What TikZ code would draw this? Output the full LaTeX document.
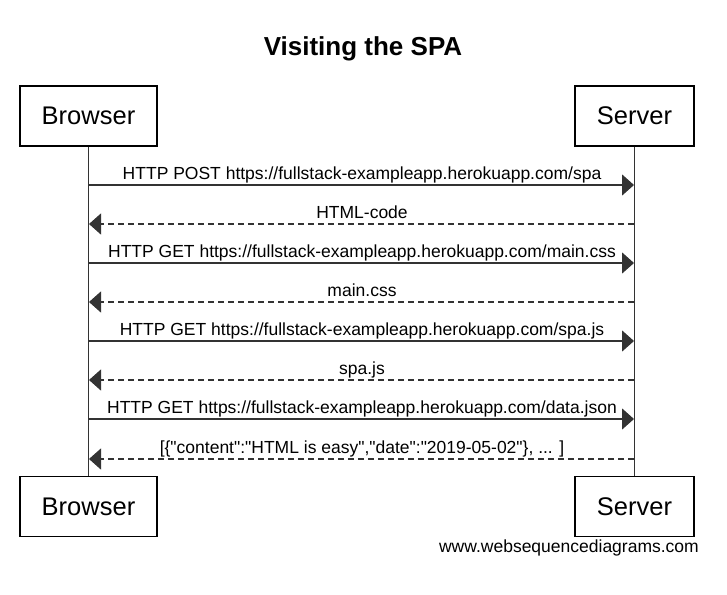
\documentclass[tikz,border=0pt]{standalone}
\usepackage{fontspec}
\setmainfont{Liberation Sans}
\usetikzlibrary{arrows.meta}

\newcommand{\qt}{\textquotedbl}

\tikzset{
	actor/.style={draw, line width=1.4pt, minimum height=60pt,
		inner sep=0pt, font=\fontsize{25.5}{30}\selectfont},
	msg/.style={anchor=base, inner sep=0pt, font=\fontsize{17.5}{20}\selectfont},
	req/.style={draw=black!80, line width=1.3pt, -{Triangle[length=12pt,width=21pt]}},
	resp/.style={req, dash pattern=on 6pt off 4pt}
}

\begin{document}
\begin{tikzpicture}[x=1pt, y=-1pt]

		\useasboundingbox (0, 0) rectangle (727, 594);
		
		\node (title) at (363, 56) [anchor=base, font=\bfseries\fontsize{26}{30}\selectfont] {Visiting the SPA};
		
		\node[actor, minimum width=137pt] (browser) at (88.5, 116) {Browser};
		\node[actor, minimum width=119pt] (server) at (634.5, 116) {Server};
		\node[actor, minimum width=137pt] (browser2) at (88.5, 506.5) {Browser};
		\node[actor, minimum width=119pt] (server2) at (634.5, 506.5) {Server};
		
		\draw[draw=black!80, line width=1.3pt] (browser.south) -- (browser2.north);
		\draw[draw=black!80, line width=1.3pt] (server.south) -- (server2.north);
		
		\coordinate (B1) at (89, 185);
		\coordinate (B2) at (89, 224);
		\coordinate (B3) at (89, 263);
		\coordinate (B4) at (89, 302);
		\coordinate (B5) at (89, 341);
		\coordinate (B6) at (89, 380);
		\coordinate (B7) at (89, 419);
		\coordinate (B8) at (89, 459);
		
		\coordinate (S1) at (634, 185);
		\coordinate (S2) at (634, 224);
		\coordinate (S3) at (634, 263);
		\coordinate (S4) at (634, 302);
		\coordinate (S5) at (634, 341);
		\coordinate (S6) at (634, 380);
		\coordinate (S7) at (634, 419);
		\coordinate (S8) at (634, 459);
		
		\node[msg] (M1) at (362, 179) {HTTP POST https://fullstack-exampleapp.herokuapp.com/spa};
		\node[msg] (M2) at (362, 218) {HTML-code};
		\node[msg] (M3) at (362, 257) {HTTP GET https://fullstack-exampleapp.herokuapp.com/main.css};
		\node[msg] (M4) at (362, 296) {main.css};
		\node[msg] (M5) at (362, 335) {HTTP GET https://fullstack-exampleapp.herokuapp.com/spa.js};
		\node[msg] (M6) at (362, 374) {spa.js};
		\node[msg] (M7) at (362, 413) {HTTP GET https://fullstack-exampleapp.herokuapp.com/data.json};
		\node[msg] (M8) at (362, 453) {[\{\qt content\qt:\qt HTML is easy\qt,\qt date\qt:\qt 2019-05-02\qt\}, ... ]};
		
		\draw[req] (B1) -- (S1);
		\draw[resp] (S2) -- (B2);
		\draw[req] (B3) -- (S3);
		\draw[resp] (S4) -- (B4);
		\draw[req] (B5) -- (S5);
		\draw[resp] (S6) -- (B6);
		\draw[req] (B7) -- (S7);
		\draw[resp] (S8) -- (B8);
		
		\node (credit) at (699, 552) [anchor=base east, inner sep=0pt, font=\fontsize{17.5}{20}\selectfont] {www.websequencediagrams.com};
		
	\end{tikzpicture}
\end{document}
